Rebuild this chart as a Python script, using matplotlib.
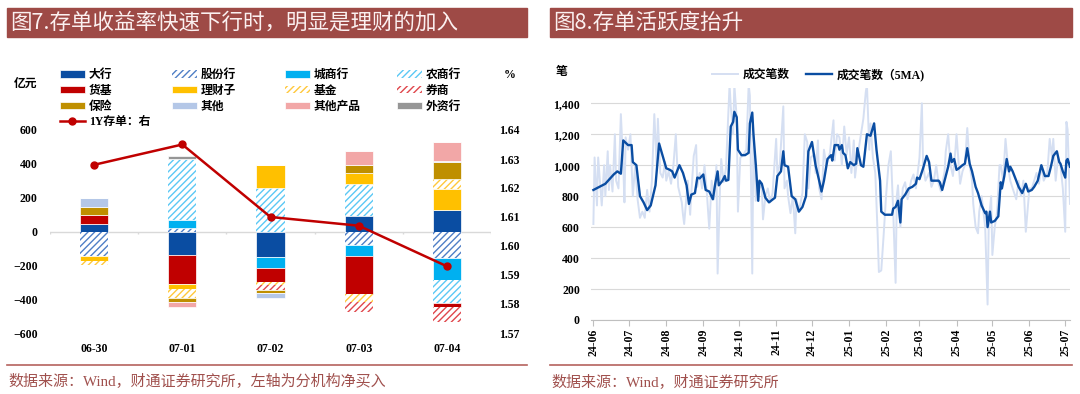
import numpy as np
import pandas as pd
import matplotlib
matplotlib.use("Agg")
import matplotlib.pyplot as plt
import matplotlib.dates as mdates
from matplotlib.patches import Rectangle
from matplotlib.lines import Line2D

plt.rcParams['font.family'] = ['Liberation Serif', 'Noto Sans CJK SC']
plt.rcParams['hatch.linewidth'] = 1.0
CJK = ['Noto Sans CJK SC', 'DejaVu Sans']
MIX = ['Liberation Serif', 'Noto Sans CJK SC']

# ---- 图7 data (亿元 net buy by institution) ----
days = ['06-30', '07-01', '07-02', '07-03', '07-04']
da_hang   = [45, -141, -151, 94, 128]     # 大行
gufen     = [-145, 22, 0, -82, -155]      # 股份行
chengshang = [0, 48, -65, -65, -129]      # 城商行
nongshang = [0, 357, 255, 186, -137]      # 农商行
huoji     = [55, -171, -82, -223, -24]    # 货基
licaizi   = [-29, -29, 137, 63, 125]      # 理财子
jijin     = [-22, -55, -20, -46, 55]      # 基金
quanshang = [0, 0, -29, -58, -88]         # 券商
baoxian   = [47, -20, -15, 49, 105]       # 保险
qita      = [49, 0, -30, -4, 5]           # 其他
qita_cp   = [0, -33, 0, 84, 110]          # 其他产品
waizi     = [0, 20, 0, 0, 3]              # 外资行
rate_1y   = [1.628, 1.635, 1.610, 1.607, 1.593]

# ---- 图8 data ----
start = pd.Timestamp('2024-06-01')
daily_days = [0, 1, 3, 4, 7, 9, 10, 12, 13, 14,
              16, 18, 19, 21, 23, 25, 26, 27, 29, 31,
              33, 35, 37, 39, 41, 43, 45, 47, 49, 51,
              53, 54, 56, 58, 60, 61, 63, 65, 67, 69,
              71, 74, 75, 76, 79, 81, 82, 84, 86, 87,
              89, 91, 93, 95, 97, 99, 101, 103, 104, 106,
              107, 109, 111, 114, 115, 117, 118, 120, 121, 123,
              125, 128, 130, 131, 133, 134, 136, 137, 139, 141,
              142, 144, 146, 148, 150, 153, 154, 156, 159, 160,
              162, 163, 165, 167, 169, 170, 172, 175, 177, 179,
              180, 182, 185, 186, 188, 189, 191, 193, 195, 198,
              201, 202, 204, 206, 208, 210, 212, 214, 216, 218,
              219, 221, 224, 226, 228, 229, 231, 232, 234, 236,
              238, 239, 241, 243, 245, 247, 249, 251, 253, 254,
              255, 257, 259, 261, 263, 266, 268, 270, 273, 275,
              276, 278, 281, 283, 285, 287, 289, 291, 294, 295,
              297, 299, 301, 303, 304, 307, 309, 311, 313, 315,
              317, 318, 320, 322, 323, 325, 328, 330, 331, 333,
              334, 336, 338, 340, 341, 343, 345, 347, 349, 351,
              354, 356, 358, 360, 362, 365, 367, 369, 371, 373,
              375, 377, 380, 382, 384, 385, 387, 389, 391, 393,
              395, 396, 397, 399]
daily_vals = [620, 1050, 740, 1050, 740, 1000, 800, 1090, 840, 1000,
              830, 1200, 900, 850, 1330, 1000, 760, 1180, 1100, 1200,
              800, 1000, 780, 660, 700, 660, 840, 700, 900, 1330,
              1000, 1300, 950, 920, 1020, 900, 960, 880, 1000, 1200,
              860, 760, 680, 620, 900, 680, 820, 1060, 1130, 860,
              950, 850, 1000, 820, 590, 900, 780, 1000, 300, 850,
              1040, 890, 980, 1520, 1380, 1200, 1520, 1300, 700, 1050,
              1060, 1100, 1520, 1450, 300, 1200, 770, 900, 870, 850,
              650, 800, 850, 760, 820, 1170, 950, 1000, 1380, 850,
              900, 800, 690, 800, 560, 780, 700, 820, 1200, 1150,
              850, 1050, 1070, 950, 1160, 850, 780, 1100, 1000, 1080,
              1290, 1030, 1200, 1180, 1000, 1250, 1070, 1180, 950, 1160,
              920, 1050, 1200, 1300, 1470, 1520, 1100, 1270, 1050, 950,
              550, 310, 320, 550, 800, 1000, 1090, 700, 240, 800,
              870, 600, 850, 890, 780, 900, 940, 850, 1050, 1400,
              1000, 900, 950, 860, 900, 1000, 880, 830, 960, 1090,
              1200, 1000, 930, 1090, 1200, 880, 960, 1000, 1240, 1000,
              900, 750, 600, 560, 700, 800, 600, 100, 650, 800,
              420, 600, 700, 1000, 1000, 900, 1170, 1000, 900, 850,
              780, 900, 800, 900, 570, 850, 850, 900, 950, 880,
              1000, 900, 950, 1170, 1050, 1170, 900, 1050, 1000, 850,
              570, 1280, 1230, 750]
ma_days = [0, 10, 17, 20, 23, 25, 29, 32, 33, 36,
           39, 42, 45, 48, 52, 55, 58, 61, 64, 66,
           68, 72, 75, 78, 80, 82, 85, 87, 89, 92,
           94, 97, 100, 102, 104, 105, 108, 110, 111, 113,
           115, 117, 118, 120, 121, 124, 127, 130, 131, 133,
           134, 136, 138, 139, 141, 144, 147, 152, 154, 157,
           159, 160, 163, 166, 169, 172, 175, 178, 180, 183,
           186, 189, 191, 193, 196, 199, 200, 202, 205, 206,
           208, 209, 211, 213, 215, 218, 220, 221, 224, 226,
           229, 232, 235, 237, 240, 241, 244, 247, 250, 251,
           253, 255, 257, 258, 261, 264, 267, 270, 271, 273,
           276, 279, 281, 283, 286, 289, 290, 292, 294, 297,
           299, 300, 302, 304, 306, 309, 311, 313, 315, 317,
           320, 322, 325, 328, 329, 330, 332, 333, 336, 339,
           341, 342, 344, 346, 348, 349, 351, 354, 356, 359,
           362, 364, 367, 369, 372, 375, 378, 381, 383, 385,
           388, 390, 391, 393, 395, 396, 397, 399]
ma_vals = [840, 880, 940, 960, 945, 1160, 1130, 1130, 1020, 1000,
           800, 760, 710, 740, 870, 1140, 1060, 980, 970, 960,
           920, 1000, 950, 870, 750, 810, 820, 920, 915, 940,
           840, 830, 780, 880, 960, 870, 900, 930, 900, 905,
           1250, 1280, 1345, 1310, 1100, 1065, 1065, 1080, 1270, 1340,
           1200, 1000, 770, 900, 880, 790, 760, 790, 930, 960,
           1090, 1000, 990, 800, 780, 700, 730, 800, 1090, 1150,
           1000, 900, 830, 900, 1040, 1065, 1030, 1130, 1130, 1100,
           1130, 1080, 1065, 980, 1020, 1000, 1010, 1110, 1000, 990,
           1200, 1190, 1270, 1100, 900, 700, 680, 680, 680, 720,
           730, 770, 630, 780, 810, 850, 860, 880, 920, 910,
           980, 1060, 1020, 900, 900, 900, 890, 840, 900, 990,
           1075, 1020, 1040, 970, 980, 1000, 1010, 1110, 1010, 960,
           860, 820, 740, 690, 700, 600, 700, 630, 640, 670,
           890, 850, 930, 1040, 960, 990, 960, 900, 860, 820,
           880, 830, 840, 860, 900, 1000, 930, 930, 990, 1060,
           1090, 1020, 1010, 960, 920, 1030, 1040, 990]

W, H = 1080, 394
fig = plt.figure(figsize=(W / 100, H / 100), dpi=100)

def fx(px):
    return px / W

def fy(py):
    return 1 - py / H

# header bands, separators, sources
red_band = '#9E4A46'
for x0, x1, title in [(7, 527, '图7.存单收益率快速下行时，明显是理财的加入'),
                      (550, 1072, '图8.存单活跃度抬升')]:
    fig.patches.append(Rectangle((fx(x0), fy(37)), fx(x1 - x0), 29 / H,
                                 transform=fig.transFigure, color=red_band, zorder=0))
    fig.text(fx(x0 + 3), fy(22.5), title, color='#FBF0F0', fontsize=15.5,
             family=CJK, va='center', ha='left')
    fig.add_artist(Line2D([fx(x0), fx(x1)], [fy(365), fy(365)], color='#B5625E', lw=1.2))
fig.text(fx(8), fy(382), '数据来源：Wind，财通证券研究所，左轴为分机构净买入',
         color='#A0504D', fontsize=10.8, family=MIX, va='center')
fig.text(fx(551), fy(382), '数据来源：Wind，财通证券研究所',
         color='#A0504D', fontsize=10.8, family=MIX, va='center')

# ---- left chart ----
ax = fig.add_axes([fx(50), fy(333), fx(441), (333 - 130) / H])
x = np.arange(len(days))
width = 0.32
bars = [('大行', da_hang, '#0A4DA2', False),
        ('股份行', gufen, '#4F7FC6', True),
        ('城商行', chengshang, '#00B0F0', False),
        ('农商行', nongshang, '#5BC8F5', True),
        ('货基', huoji, '#C00000', False),
        ('理财子', licaizi, '#FFC000', False),
        ('基金', jijin, '#FFC83C', True),
        ('券商', quanshang, '#E0474C', True),
        ('保险', baoxian, '#BF8F00', False),
        ('其他', qita, '#B4C7E7', False),
        ('其他产品', qita_cp, '#F2A7A7', False),
        ('外资行', waizi, '#969696', False)]
pos = np.zeros(len(days))
neg = np.zeros(len(days))
handles = []
for name, vals, color, hatched in bars:
    v = np.array(vals, dtype=float)
    bottom = np.where(v >= 0, pos, neg)
    if hatched:
        b = ax.bar(x, v, width, bottom=bottom, facecolor='white', edgecolor=color,
                   hatch='/////', linewidth=0, label=name, zorder=2)
    else:
        b = ax.bar(x, v, width, bottom=bottom, color=color, edgecolor='white',
                   linewidth=0.5, label=name, zorder=2)
    handles.append(b)
    pos += np.clip(v, 0, None)
    neg += np.clip(v, None, 0)

ax.axhline(0, color='#D9D9D9', lw=1, zorder=1)
ax.vlines(np.arange(-0.5, len(days)), -12, 0, color='#D9D9D9', lw=1, zorder=1)
ax.set_xlim(-0.5, len(days) - 0.5)
ax.set_ylim(-600, 600)
ax.set_yticks(range(-600, 601, 200))
ax.set_xticks(x, days)
ax.tick_params(axis='both', length=0, labelsize=8.5)
ax.tick_params(axis='y', pad=9)
ax.tick_params(axis='x', pad=7)
for lab in ax.get_xticklabels() + ax.get_yticklabels():
    lab.set_fontweight('bold')
for s in ax.spines.values():
    s.set_visible(False)

ax2 = ax.twinx()
line, = ax2.plot(x, rate_1y, color='#C00000', lw=1.8, marker='o', ms=5, zorder=5,
                 label='1Y存单：右')
ax2.set_ylim(1.57, 1.64)
ax2.set_yticks(np.round(np.arange(1.57, 1.6401, 0.01), 2))
ax2.tick_params(axis='y', length=0, labelsize=8.5, pad=6)
for lab in ax2.get_yticklabels():
    lab.set_fontweight('bold')
for s in ax2.spines.values():
    s.set_visible(False)

fig.text(fx(14), fy(83), '亿元', fontsize=8.5, family=CJK, fontweight='bold', va='center')
fig.text(fx(504), fy(75), '%', fontsize=8.5, family=MIX, fontweight='bold', va='center')

handles.append(line)
cols = [[0, 4, 8, 12], [1, 5, 9], [2, 6, 10], [3, 7, 11]]
col_x = [60, 172, 285, 397]
for idx, cx in zip(cols, col_x):
    lg = fig.legend([handles[i] for i in idx], [handles[i].get_label() for i in idx],
                    loc='upper left', bbox_to_anchor=(fx(cx), fy(69)), frameon=False,
                    borderpad=0, borderaxespad=0, handlelength=2.1, handleheight=0.6,
                    handletextpad=0.35, labelspacing=0.32,
                    prop={'family': MIX, 'weight': 'bold', 'size': 8.5})

# ---- right chart ----
bx = fig.add_axes([fx(591), fy(320), fx(479), (320 - 87.8) / H])
d_daily = start + pd.to_timedelta(daily_days, unit='D')
d_ma = start + pd.to_timedelta(ma_days, unit='D')
bx.plot(d_daily, daily_vals, color='#D5DFF2', lw=1.4, label='成交笔数', zorder=2)
bx.plot(d_ma, ma_vals, color='#0A4DA2', lw=1.7, label='成交笔数（5MA)', zorder=3)
bx.set_ylim(0, 1500)
bx.set_yticks(range(0, 1401, 200))
bx.yaxis.set_major_formatter(matplotlib.ticker.FuncFormatter(lambda v, p: f'{int(v):,}'))
bx.set_xlim(pd.Timestamp('2024-05-30'), pd.Timestamp('2025-07-05'))
bx.xaxis.set_major_locator(mdates.MonthLocator())
bx.xaxis.set_major_formatter(mdates.DateFormatter('%y-%m'))
bx.grid(axis='y', color='#D9D9D9', lw=0.8, zorder=0)
bx.set_axisbelow(True)
for k in ['top', 'right', 'left']:
    bx.spines[k].set_visible(False)
bx.spines['bottom'].set_color('#BFBFBF')
bx.tick_params(axis='y', length=0, labelsize=8.5, pad=8)
bx.tick_params(axis='x', length=4, color='#BFBFBF', labelsize=8.5, pad=2, labelrotation=90)
for lab in bx.get_xticklabels() + bx.get_yticklabels():
    lab.set_fontweight('bold')
fig.text(fx(556), fy(72), '笔', fontsize=8.5, family=CJK, fontweight='bold', va='center')
bx.legend(loc='upper left', bbox_to_anchor=(fx(712), fy(68)), bbox_transform=fig.transFigure,
          ncol=2, frameon=False, borderpad=0, borderaxespad=0, handlelength=2.2,
          handletextpad=0.4, columnspacing=1.4,
          prop={'family': MIX, 'weight': 'bold', 'size': 8.5})

fig.savefig('out.png', dpi=100)
